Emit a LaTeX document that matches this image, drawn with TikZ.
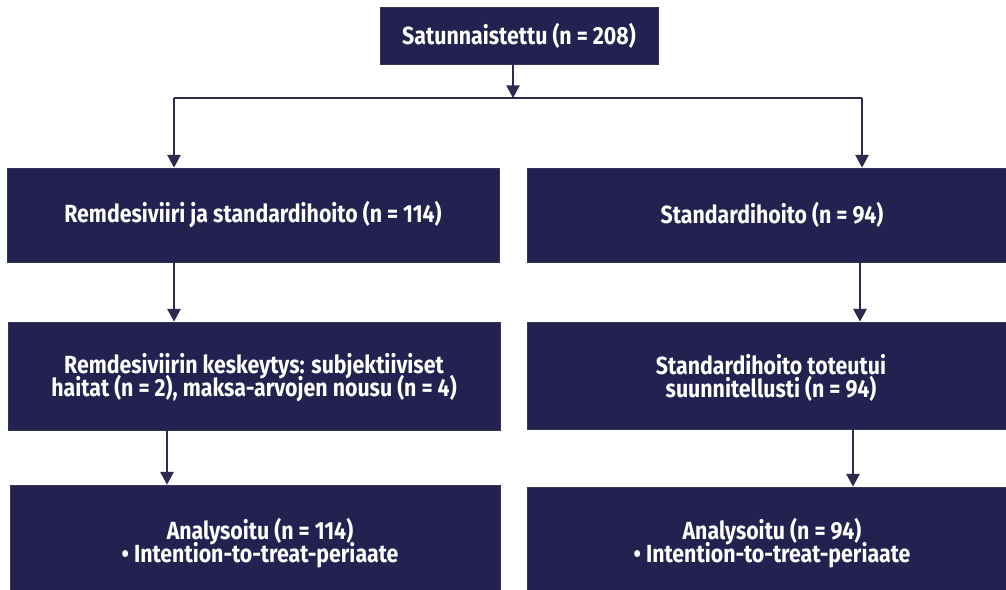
\documentclass[tikz,border=0pt]{standalone}
\usepackage{fontspec}
\setmainfont{Fira Sans}[FakeStretch=0.86]
\usetikzlibrary{arrows.meta}
\definecolor{navy}{HTML}{22214F}
\definecolor{linec}{HTML}{2C2B4E}
\newcommand{\boxfont}{\fontsize{18.6}{17.2}\selectfont\bfseries\lineskiplimit=-20pt\relax}
\tikzset{
  box/.style={rectangle, fill=navy, draw=navy!80!gray, line width=0.6pt, text=white,
    font=\boxfont, align=center, inner sep=0pt},
  lbl/.style={text=white, font=\boxfont, align=center, inner sep=0pt},
  arr/.style={draw=linec, line width=1.1pt, -{Triangle[length=9.5pt,width=10pt]}},
  ln/.style={draw=linec, line width=1.1pt}
}
\begin{document}
\begin{tikzpicture}[x=0.75pt,y=-0.75pt]
\useasboundingbox (0,0) rectangle (1006,589);
\clip (0,0) rectangle (1006,589);
\fill[white] (0,0) rectangle (1006,589);
% boxes
\node[box, minimum width=278*0.75pt, minimum height=57*0.75pt] (top) at (519,35.5) {Satunnaistettu (n = 208)};
\node[box, minimum width=492*0.75pt, minimum height=94*0.75pt] (l1) at (253,215) {Remdesiviiri ja standardihoito (n = 114)};
\node[box, minimum width=483*0.75pt, minimum height=94*0.75pt] (r1) at (768.5,215) {};
\node[lbl] (r1t) at (772,215) {Standardihoito (n = 94)};
\node[box, minimum width=492*0.75pt, minimum height=108*0.75pt] (l2) at (254,376) {};
\node[lbl] (l2t) at (254,378) {Remdesiviirin keskeytys: subjektiiviset\\haitat (n = 2), maksa-arvojen nousu (n = 4)};
\node[box, minimum width=483*0.75pt, minimum height=107*0.75pt] (r2) at (768.5,375.5) {};
\node[lbl] (r2t) at (771,378) {Standardihoito toteutui\\suunnitellusti (n = 94)};
\node[box, minimum width=490*0.75pt, minimum height=110*0.75pt] (l3) at (255,540) {};
\node[lbl] (l3t) at (260,543) {Analysoitu (n = 114)\\\textbullet{} Intention-to-treat-periaate};
\node[box, minimum width=483*0.75pt, minimum height=108*0.75pt] (r3) at (768.5,541) {};
\node[lbl] (r3t) at (772,543) {Analysoitu (n = 94)\\\textbullet{} Intention-to-treat-periaate};
% junction coordinates
\coordinate (j) at (513,98);
\coordinate (jl) at (174,98);
\coordinate (jr) at (862,98);
\coordinate (a1) at (174,0);
\coordinate (b1) at (860,0);
\coordinate (a2) at (167,0);
\coordinate (b2) at (853,0);
% connectors
\draw[arr] (top.south -| j) -- (j);
\draw[ln] (jl) -- (jr);
\draw[arr] (jl) -- (l1.north -| jl);
\draw[arr] (jr) -- (r1.north -| jr);
\draw[arr] (l1.south -| a1) -- (l2.north -| a1);
\draw[arr] (r1.south -| b1) -- (r2.north -| b1);
\draw[arr] (l2.south -| a2) -- (l3.north -| a2);
\draw[arr] (r2.south -| b2) -- (r3.north -| b2);
\end{tikzpicture}
\end{document}
